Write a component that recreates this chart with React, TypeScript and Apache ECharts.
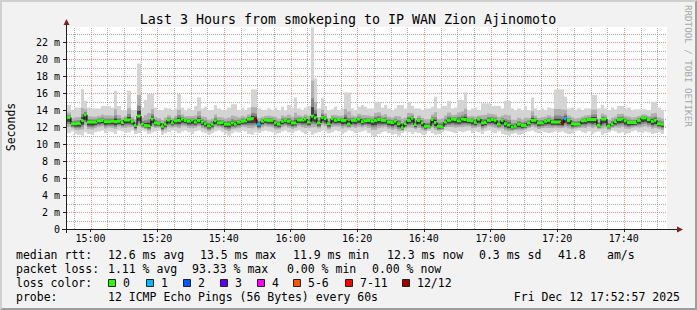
import React, { useEffect, useRef } from "react";
import * as echarts from "echarts";

// ---------------- data ----------------
// one sample per minute, first sample = 14:53 (minute 3 after 14:50)
const medianMs = [
  13.15, 12.4, 12.4, 12.45, 12.8, 13.45, 12.6, 12.6, 12.6, 12.75,
  12.8, 12.65, 12.65, 12.7, 12.65, 12.7, 12.55, 12.85, 12.85, 12.65,
  12.2, 13.3, 12.35, 12.2, 12.15, 12.95, 12.5, 12.45, 12.1, 12.35,
  12.85, 12.5, 12.75, 12.8, 12.95, 12.8, 12.7, 12.85, 12.6, 12.8,
  12.6, 12.4, 12.15, 12.35, 12.75, 12.5, 12.55, 12.35, 12.35, 12.5,
  12.35, 12.6, 12.7, 12.75, 12.95, 13.0, 12.9, 12.35, 12.7, 12.85,
  12.8, 12.8, 12.5, 12.35, 12.7, 12.8, 12.7, 12.5, 12.5, 12.85,
  12.85, 12.95, 12.6, 13.3, 13.1, 12.5, 13.15, 13.0, 12.4, 13.0,
  12.8, 12.9, 12.8, 12.8, 12.35, 12.8, 12.8, 12.95, 12.65, 12.75,
  12.8, 12.7, 12.8, 12.9, 12.8, 12.8, 12.6, 12.55, 12.7, 12.4,
  11.95, 12.4, 12.8, 13.05, 12.3, 12.8, 12.5, 12.1, 12.1, 12.9,
  12.55, 12.1, 12.05, 12.6, 12.8, 12.95, 12.9, 12.75, 12.95, 12.9,
  12.8, 12.75, 12.55, 12.95, 12.5, 12.55, 12.8, 12.9, 12.8, 12.35,
  12.8, 12.4, 12.25, 12.0, 12.1, 12.35, 12.2, 12.2, 12.5, 12.8,
  12.8, 12.5, 12.5, 12.7, 12.8, 12.6, 12.6, 12.6, 12.5, 13.0,
  12.8, 12.4, 12.35, 12.35, 12.75, 12.8, 12.9, 12.9, 12.9, 12.2,
  12.95, 12.95, 12.1, 12.35, 12.65, 12.9, 12.95, 12.75, 12.55, 12.55,
  12.55, 12.8, 13.1, 13.1, 12.9, 12.7, 12.8, 12.4, 12.35,
];

const maxMs = [
  14.6, 14.0, 14.3, 14.3, 16.5, 15.1, 14.3, 14.2, 14.2, 14.2,
  14.5, 14.5, 14.5, 14.3, 16.3, 14.5, 14.0, 14.0, 16.3, 14.0,
  14.0, 19.5, 14.3, 15.2, 15.9, 15.9, 14.3, 14.0, 14.0, 14.3,
  14.2, 14.0, 14.2, 15.9, 14.3, 14.0, 14.2, 14.0, 14.5, 15.5,
  14.2, 14.4, 14.0, 14.0, 14.6, 14.2, 14.0, 14.0, 14.3, 14.7,
  14.7, 14.0, 14.3, 14.0, 14.3, 16.45, 16.45, 14.2, 14.0, 14.0,
  14.2, 14.0, 14.3, 14.0, 14.4, 14.0, 14.6, 14.3, 15.5, 14.2,
  14.0, 14.3, 14.5, 23.75, 17.75, 14.2, 15.4, 14.5, 14.0, 14.1,
  14.4, 14.0, 14.2, 16.1, 16.1, 14.2, 14.0, 14.4, 14.6, 14.4,
  14.2, 14.2, 15.0, 15.0, 14.3, 14.6, 14.2, 14.0, 14.2, 14.6,
  14.6, 14.2, 15.0, 14.5, 14.2, 14.2, 14.0, 14.2, 14.2, 14.4,
  15.6, 14.2, 14.5, 14.5, 15.1, 14.2, 14.3, 15.2, 15.2, 16.1,
  14.0, 14.2, 14.3, 14.0, 14.8, 14.8, 14.8, 14.5, 14.5, 14.5,
  14.2, 15.1, 15.1, 14.2, 14.0, 14.2, 14.0, 14.5, 14.0, 15.5,
  14.2, 14.0, 14.2, 14.0, 14.3, 14.2, 16.45, 16.45, 16.45, 15.6,
  14.2, 14.3, 14.0, 14.2, 14.0, 14.2, 14.2, 15.8, 15.8, 14.2,
  14.6, 14.2, 14.0, 14.3, 14.1, 14.5, 14.5, 14.2, 14.3, 14.0,
  14.1, 14.1, 14.1, 14.1, 14.0, 15.0, 15.0, 14.3, 14.0,
];

const minMs = [
  11.3, 11.5, 11.2, 11.1, 11.0, 11.4, 11.2, 11.1, 11.4, 11.5,
  11.6, 11.3, 11.5, 11.4, 11.2, 11.6, 11.5, 11.3, 11.4, 11.6,
  11.2, 11.3, 11.6, 11.5, 11.2, 11.4, 11.5, 11.6, 11.1, 11.3,
  11.4, 11.6, 11.5, 11.3, 11.5, 11.6, 11.4, 11.2, 11.5, 11.6,
  11.4, 11.3, 11.1, 11.3, 11.5, 11.6, 11.4, 11.2, 11.0, 11.3,
  11.5, 11.4, 11.6, 11.5, 11.2, 11.1, 11.4, 11.3, 11.5, 11.6,
  11.5, 11.4, 11.2, 11.3, 11.5, 11.6, 11.4, 11.3, 11.5, 11.6,
  11.4, 11.2, 11.5, 11.1, 11.3, 11.4, 11.6, 11.5, 11.3, 11.4,
  11.6, 11.5, 11.2, 11.4, 11.6, 11.5, 11.3, 11.4, 11.5, 11.6,
  11.3, 11.0, 10.9, 11.2, 11.4, 11.5, 11.3, 11.1, 11.2, 11.0,
  11.3, 11.5, 11.4, 11.2, 11.4, 11.3, 11.1, 11.2, 11.5, 11.3,
  11.1, 11.2, 11.4, 11.6, 11.5, 11.4, 11.3, 11.5, 11.4, 11.5,
  11.6, 11.3, 11.5, 11.4, 11.2, 11.5, 11.6, 11.4, 11.3, 11.5,
  11.2, 11.1, 11.0, 11.2, 11.3, 11.1, 11.2, 11.4, 11.5, 11.6,
  11.4, 11.3, 11.5, 11.4, 11.3, 11.4, 11.5, 11.4, 11.5, 11.3,
  11.2, 11.3, 11.5, 11.6, 11.4, 11.3, 11.5, 11.2, 11.4, 11.5,
  11.1, 11.3, 11.4, 11.6, 11.5, 11.3, 11.4, 11.2, 11.3, 11.5,
  11.6, 11.4, 11.3, 11.5, 11.4, 11.2, 11.3, 11.4, 11.2,
];

// [sample index, lost pings out of 12]
const lossEvents = [
  [56, 12],
  [57, 1],
  [148, 12],
  [149, 1],
];

const timeTickMinutes = [10, 30, 50, 70, 90, 110, 130, 150, 170]; // minutes after 14:50
const timeTickLabels = ["15:00", "15:20", "15:40", "16:00", "16:20", "16:40", "17:00", "17:20", "17:40"];
const yTickValues = [0, 2, 4, 6, 8, 10, 12, 14, 16, 18, 20, 22];
const yTickLabels = ["0", "2 m", "4 m", "6 m", "8 m", "10 m", "12 m", "14 m", "16 m", "18 m", "20 m", "22 m"];

const titleText = "Last 3 Hours from smokeping to IP WAN Zion Ajinomoto";
const rttHeader = "median rtt:";
const rttStats = ["12.6 ms avg", "13.5 ms max", "11.9 ms min", "12.3 ms now", "0.3 ms sd", "41.8", "am/s"];
const lossHeader = "packet loss:";
const lossStats = ["1.11 % avg", "93.33 % max", "0.00 % min", "0.00 % now"];
const lossColorHeader = "loss color:";
const lossLegendLabels = ["0", "1", "2", "3", "4", "5-6", "7-11", "12/12"];
const lossLegendColors = ["#26ff00", "#00b8ff", "#0059ff", "#5e00ff", "#ff00ff", "#ff5500", "#ff0000", "#a10000"];
const probeHeader = "probe:";
const probeText = "12 ICMP Echo Pings (56 Bytes) every 60s";
const dateText = "Fri Dec 12 17:52:57 2025";
const watermark = "RRDTOOL / TOBI OETIKER";

// ---------------- layout ----------------
const W = 697;
const H = 310;
const FIRST_SAMPLE_MIN = 3;
const X_MIN = 2.95;
const X_MAX = 182.95;
const Y_MAX = 23.8;
const GRID = { left: 67, top: 27, width: 600, height: 202 };
const MONO = '"DejaVu Sans Mono", monospace';
const rttX = [108, 200, 293, 387, 479, 558, 607];
const lossX = [108, 192, 287, 372];
const legendBoxX = [108, 146, 183, 220, 257, 293, 345, 402];
const rowY = [255, 269, 283, 297];

function lossBucket(n: number): number {
  if (n <= 4) return n;
  if (n <= 6) return 5;
  if (n <= 11) return 6;
  return 7;
}

export default function App() {
  const ref = useRef<HTMLDivElement>(null);

  useEffect(() => {
    if (!ref.current) return;
    const chart = echarts.init(ref.current, null, { renderer: "svg" });

    const lossMap: Record<number, number> = {};
    lossEvents.forEach(([i, n]) => (lossMap[i] = n));

    const smokeData = medianMs.map((m, i) => [FIRST_SAMPLE_MIN + i, minMs[i], maxMs[i], m]);
    const medianData = medianMs.map((m, i) => [
      FIRST_SAMPLE_MIN + i,
      m,
      i > 0 ? medianMs[i - 1] : m,
      lossBucket(lossMap[i] || 0),
    ]);

    const vLines: number[][] = [];
    for (let t = 5; t <= 180; t += 5) vLines.push([t, (t - 10) % 20 === 0 ? 1 : 0]);
    const hLines: number[][] = [];
    for (let v = 1; v <= 23; v++) hLines.push([X_MIN, v, v % 2 === 0 ? 1 : 0]);

    const minorColor = "rgba(143,143,143,0.75)";
    const majorColor = "rgba(222,79,79,0.6)";

    const txt = (x: number, y: number, text: string, extra: any = {}) => ({
      type: "text",
      x,
      y,
      z: 50,
      style: {
        text,
        fill: "#000",
        fontFamily: MONO,
        fontSize: 11.5,
        align: "left",
        verticalAlign: "middle",
        ...extra,
      },
    });

    const graphics: any[] = [
      {
        type: "polygon",
        z: 1,
        shape: { points: [[0, 0], [W, 0], [W - 2, 2], [2, 2], [2, H - 2], [0, H]] },
        style: { fill: "#cfcfcf" },
      },
      {
        type: "polygon",
        z: 1,
        shape: { points: [[W, H], [0, H], [2, H - 2], [W - 2, H - 2], [W - 2, 2], [W, 0]] },
        style: { fill: "#9e9e9e" },
      },
      {
        type: "line",
        z: 60,
        shape: { x1: 62, y1: 229.5, x2: 678, y2: 229.5 },
        style: { stroke: "#1f1f1f", lineWidth: 1 },
      },
      {
        type: "polygon",
        z: 60,
        shape: { points: [[677, 226.5], [683, 229.5], [677, 232.5]] },
        style: { fill: "#801f1f" },
      },
      {
        type: "line",
        z: 60,
        shape: { x1: 66.5, y1: 233, x2: 66.5, y2: 25 },
        style: { stroke: "#1f1f1f", lineWidth: 1 },
      },
      {
        type: "polygon",
        z: 60,
        shape: { points: [[63.5, 25], [66.5, 19], [69.5, 25]] },
        style: { fill: "#801f1f" },
      },
      txt(348, 19, titleText, { align: "center", fontSize: 13.3 }),
      {
        type: "text",
        x: 11,
        y: 127,
        rotation: Math.PI / 2,
        z: 50,
        style: {
          text: "Seconds",
          fill: "#000",
          fontFamily: MONO,
          fontSize: 11.5,
          align: "center",
          verticalAlign: "middle",
        },
      },
      {
        type: "text",
        x: 688,
        y: 5,
        rotation: -Math.PI / 2,
        z: 50,
        style: {
          text: watermark,
          fill: "#a8a8a8",
          fontFamily: MONO,
          fontSize: 9.2,
          align: "left",
          verticalAlign: "middle",
        },
      },
      txt(16, rowY[0], rttHeader),
      ...rttStats.map((s, k) => txt(rttX[k], rowY[0], s)),
      txt(16, rowY[1], lossHeader),
      ...lossStats.map((s, k) => txt(lossX[k], rowY[1], s)),
      txt(16, rowY[2], lossColorHeader),
      ...lossLegendLabels.map((s, k) => ({
        type: "rect",
        z: 50,
        shape: { x: legendBoxX[k] + 0.5, y: rowY[2] - 3.5, width: 7, height: 7 },
        style: { fill: lossLegendColors[k], stroke: "#222", lineWidth: 1 },
      })),
      ...lossLegendLabels.map((s, k) => txt(legendBoxX[k] + 15, rowY[2], s)),
      txt(16, rowY[3], probeHeader),
      txt(108, rowY[3], probeText),
      txt(680, rowY[3], dateText, { align: "right" }),
    ];

    const option: any = {
      animation: false,
      backgroundColor: "#f2f2f2",
      textStyle: { fontFamily: MONO },
      grid: { ...GRID, show: true, backgroundColor: "#ffffff", borderWidth: 0 },
      xAxis: {
        type: "value",
        min: X_MIN,
        max: X_MAX,
        axisLine: { show: false },
        splitLine: { show: false },
        axisTick: {
          show: true,
          customValues: timeTickMinutes,
          length: 3,
          lineStyle: { color: "#1f1f1f" },
        },
        axisLabel: {
          customValues: timeTickMinutes,
          formatter: (v: number) => timeTickLabels[timeTickMinutes.indexOf(Math.round(v))] || "",
          fontFamily: MONO,
          fontSize: 10,
          color: "#000",
          margin: 4,
        },
      },
      yAxis: {
        type: "value",
        min: 0,
        max: Y_MAX,
        axisLine: { show: false },
        splitLine: { show: false },
        axisTick: {
          show: true,
          customValues: yTickValues,
          length: 4,
          lineStyle: { color: "#1f1f1f" },
        },
        axisLabel: {
          customValues: yTickValues,
          formatter: (v: number) => yTickLabels[yTickValues.indexOf(Math.round(v))] ?? "",
          fontFamily: MONO,
          fontSize: 10,
          color: "#000",
          margin: 7,
        },
      },
      graphic: graphics,
      series: [
        {
          type: "custom",
          silent: true,
          z: 1,
          data: vLines,
          renderItem: (params: any, api: any) => {
            const t = api.value(0);
            const major = api.value(1) === 1;
            const x = Math.round(api.coord([t, 0])[0]) + 0.5;
            const y0 = Math.round(api.coord([t, 0])[1]);
            const y1 = Math.round(api.coord([t, Y_MAX])[1]);
            return {
              type: "line",
              shape: { x1: x, y1: y0, x2: x, y2: y1 },
              style: { stroke: major ? majorColor : minorColor, lineWidth: 1, lineDash: [1, 1] },
            };
          },
        },
        {
          type: "custom",
          silent: true,
          z: 1,
          data: hLines,
          renderItem: (params: any, api: any) => {
            const v = api.value(1);
            const major = api.value(2) === 1;
            const y = Math.round(api.coord([X_MIN, v])[1]) + 0.5;
            const x0 = Math.round(api.coord([X_MIN, v])[0]);
            const x1 = Math.round(api.coord([X_MAX, v])[0]);
            return {
              type: "line",
              shape: { x1: x0, y1: y, x2: x1, y2: y },
              style: { stroke: major ? majorColor : minorColor, lineWidth: 1, lineDash: [1, 1] },
            };
          },
        },
        {
          type: "custom",
          name: "smoke",
          silent: true,
          z: 2,
          data: smokeData,
          renderItem: (params: any, api: any) => {
            const t = api.value(0);
            const lo = api.value(1);
            const hi = api.value(2);
            const md = api.value(3);
            const xa = Math.round(api.coord([t, 0])[0]);
            const xb = Math.round(api.coord([t + 1, 0])[0]);
            const bands: [number, number, string][] = [
              [1, 1, "#d4d4d4"],
              [0.6, 0.4, "#b0b0b0"],
              [0.42, 0.2, "#888888"],
              [0.28, 0.1, "#404040"],
            ];
            return {
              type: "group",
              children: bands.map(([fl, fh, c]) => {
                const yl = api.coord([t, md - (md - lo) * fl])[1];
                const yh = api.coord([t, md + (hi - md) * fh])[1];
                return {
                  type: "rect",
                  shape: { x: xa, y: yh, width: xb - xa, height: yl - yh },
                  style: { fill: c },
                };
              }),
            };
          },
        },
        {
          type: "custom",
          name: "median rtt",
          silent: true,
          z: 3,
          data: medianData,
          renderItem: (params: any, api: any) => {
            const t = api.value(0);
            const md = api.value(1);
            const prev = api.value(2);
            const bucket = api.value(3);
            const xa = Math.round(api.coord([t, 0])[0]);
            const xb = Math.round(api.coord([t + 1, 0])[0]);
            const y = api.coord([t, md])[1];
            const yp = api.coord([t, prev])[1];
            const children: any[] = [];
            if (Math.abs(y - yp) > 0.5) {
              children.push({
                type: "rect",
                shape: { x: xa - 0.5, y: Math.min(y, yp), width: 1, height: Math.abs(y - yp) },
                style: { fill: "#000" },
              });
            }
            children.push({
              type: "rect",
              shape: { x: xa, y: y - 1.5, width: xb - xa, height: 3 },
              style: { fill: lossLegendColors[bucket] },
            });
            return { type: "group", children };
          },
        },
      ],
    };

    chart.setOption(option);
    return () => chart.dispose();
  }, []);

  return <div ref={ref} style={{ position: "absolute", left: 0, top: 0, width: W, height: H }} />;
}
